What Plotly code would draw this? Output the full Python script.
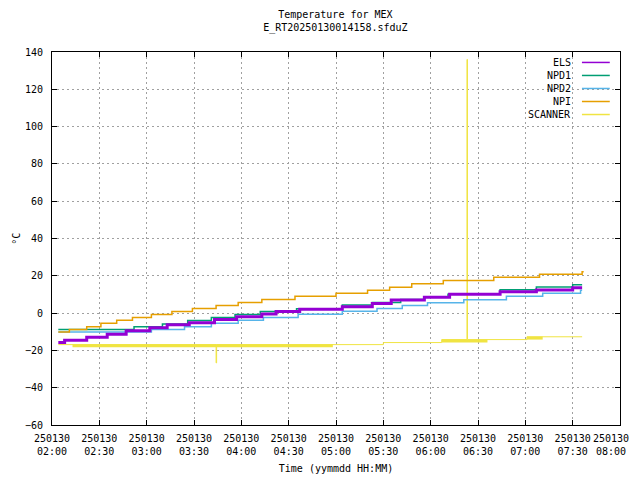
import plotly.graph_objects as go

day = "2025-01-30 "

els_t = ["02:04", "02:08", "02:22", "02:35", "02:47", "03:02", "03:13", "03:27", "03:43", "03:57", "04:13",
         "04:22", "04:37", "05:04", "05:23", "05:35", "05:56", "06:12", "06:44", "07:07", "07:30", "07:36"]
els_v = [-15.8, -14.5, -12.9, -11.3, -9.5, -7.9, -6.3, -5.2, -3.4, -2.0, -0.5,
         0.8, 2.0, 3.4, 5.2, 7.0, 8.5, 10.1, 11.5, 12.4, 13.6, 13.6]

npd1_t = ["02:04", "02:52", "03:10", "03:26", "03:41", "03:56", "04:12", "04:35", "05:04", "05:23", "05:41",
          "05:56", "06:11", "06:44", "07:07", "07:30", "07:36"]
npd1_v = [-8.8, -7.3, -5.8, -4.0, -2.3, -0.7, 0.8, 2.3, 4.3, 5.7, 7.3,
          8.8, 10.1, 12.5, 14.0, 15.2, 15.2]

npd2_t = ["02:04", "03:03", "03:24", "03:41", "03:58", "04:14", "04:36", "05:04", "05:26", "05:42", "05:58",
          "06:21", "06:48", "07:11", "07:35", "07:36"]
npd2_v = [-10.2, -8.8, -7.3, -5.5, -3.9, -2.3, -0.6, 1.0, 2.5, 4.1, 5.6,
          7.2, 9.0, 10.6, 12.2, 12.2]

npi_t = ["02:04", "02:11", "02:22", "02:31", "02:41", "02:51", "03:03", "03:16", "03:29", "03:44", "03:58",
         "04:13", "04:34", "05:00", "05:20", "05:34", "05:48", "06:08", "06:40", "07:09", "07:36", "07:37"]
npi_v = [-10.2, -8.8, -7.3, -5.5, -3.9, -2.3, -0.7, 0.9, 2.5, 4.1, 5.7,
         7.3, 9.0, 10.6, 12.2, 13.8, 15.8, 17.5, 19.2, 20.8, 22.2, 22.2]

scan_t = ["02:04", "03:44:00", "03:44:20", "05:30", "06:07", "06:23:00", "06:23:20", "07:01", "07:36"]
scan_v = [-16.9, -26.7, -16.9, -15.8, -14.2, 136.0, -14.2, -12.7, -12.7]

# noisy band segments of the scanner trace
band_t = [["02:13", "04:58"], ["06:07", "06:36"], ["07:01", "07:11"]]
band_v = [-17.5, -15.0, -13.4]

tick_t = ["02:00", "02:30", "03:00", "03:30", "04:00", "04:30", "05:00", "05:30", "06:00", "06:30",
          "07:00", "07:30", "08:00"]

names = ["ELS", "NPD1", "NPD2", "NPI", "SCANNER"]
colors = ["#9400d3", "#009e73", "#56b4e9", "#e69f00", "#f0e442"]

font = "DejaVu Sans Mono"

fig = go.Figure()

for i, b in enumerate(band_t):
    fig.add_trace(go.Scatter(x=[day + t for t in b], y=[band_v[i]] * 2, mode="lines",
                             line=dict(color=colors[4], width=3), showlegend=False, hoverinfo="skip"))

series = [(els_t, els_v, 3), (npd1_t, npd1_v, 1.5), (npd2_t, npd2_v, 1.5), (npi_t, npi_v, 1.5), (scan_t, scan_v, 1)]
order = [4, 2, 1, 0, 3]
for i in order:
    t, v, w = series[i]
    fig.add_trace(go.Scatter(x=[day + s for s in t], y=v, mode="lines", name=names[i],
                             line=dict(color=colors[i], width=w, shape="hv"), showlegend=False))

# gnuplot style key, text then sample
fig.add_shape(type="rect", xref="paper", yref="paper", x0=0.83, x1=0.995, y0=0.82, y1=0.995,
              fillcolor="white", line_width=0, layer="between")
for i, n in enumerate(names):
    yy = 0.972 - i * 0.0349
    fig.add_annotation(x=0.918, y=yy, xref="paper", yref="paper", text=n, showarrow=False,
                       xanchor="right", yanchor="middle", font=dict(family=font, size=10, color="black"))
    fig.add_shape(type="line", xref="paper", yref="paper", x0=0.933, x1=0.982, y0=yy, y1=yy,
                  line=dict(color=colors[i], width=1.5))

# tick labels; the last one is nudged left so it stays inside the page
ticktext = ["250130<br>" + t for t in tick_t]
ticktext[-1] = "250130&nbsp;&nbsp;&nbsp;<br>08:00&nbsp;&nbsp;&nbsp;"

# page body has an 8px margin, so the figure is 8px smaller
fig.update_layout(
    width=632, height=472,
    margin=dict(l=44, r=20, t=44, b=55),
    paper_bgcolor="white", plot_bgcolor="white",
    font=dict(family=font, size=10, color="black"),
    title=dict(text="Temperature for MEX<br>E_RT20250130014158.sfduZ", x=0.518, xanchor="center",
               y=0.978, yanchor="top", font=dict(family=font, size=10)),
    showlegend=False,
)
fig.update_xaxes(
    range=[day + "02:00", day + "08:00"], automargin=False,
    tickvals=[day + t for t in tick_t], ticktext=ticktext, ticklabeloverflow="allow",
    showline=True, linecolor="black", linewidth=1, mirror="allticks",
    ticks="inside", ticklen=5, tickcolor="black",
    showgrid=True, gridcolor="#a0a0a0", griddash="2px,3px", gridwidth=1,
    zeroline=False, ticklabelstandoff=4,
    title=dict(text="Time (yymmdd HH:MM)", font=dict(family=font, size=10), standoff=8),
)
fig.update_yaxes(
    range=[-60, 140], dtick=20, automargin=False,
    showline=True, linecolor="black", linewidth=1, mirror="allticks",
    ticks="inside", ticklen=5, tickcolor="black",
    showgrid=True, gridcolor="#a0a0a0", griddash="2px,3px", gridwidth=1,
    zeroline=False, ticklabelstandoff=6,
)
fig.add_annotation(x=-0.076, y=0.5, xref="paper", yref="paper", text="°C", showarrow=False,
                   textangle=-90, font=dict(family=font, size=10))

fig.write_html("out.html")
